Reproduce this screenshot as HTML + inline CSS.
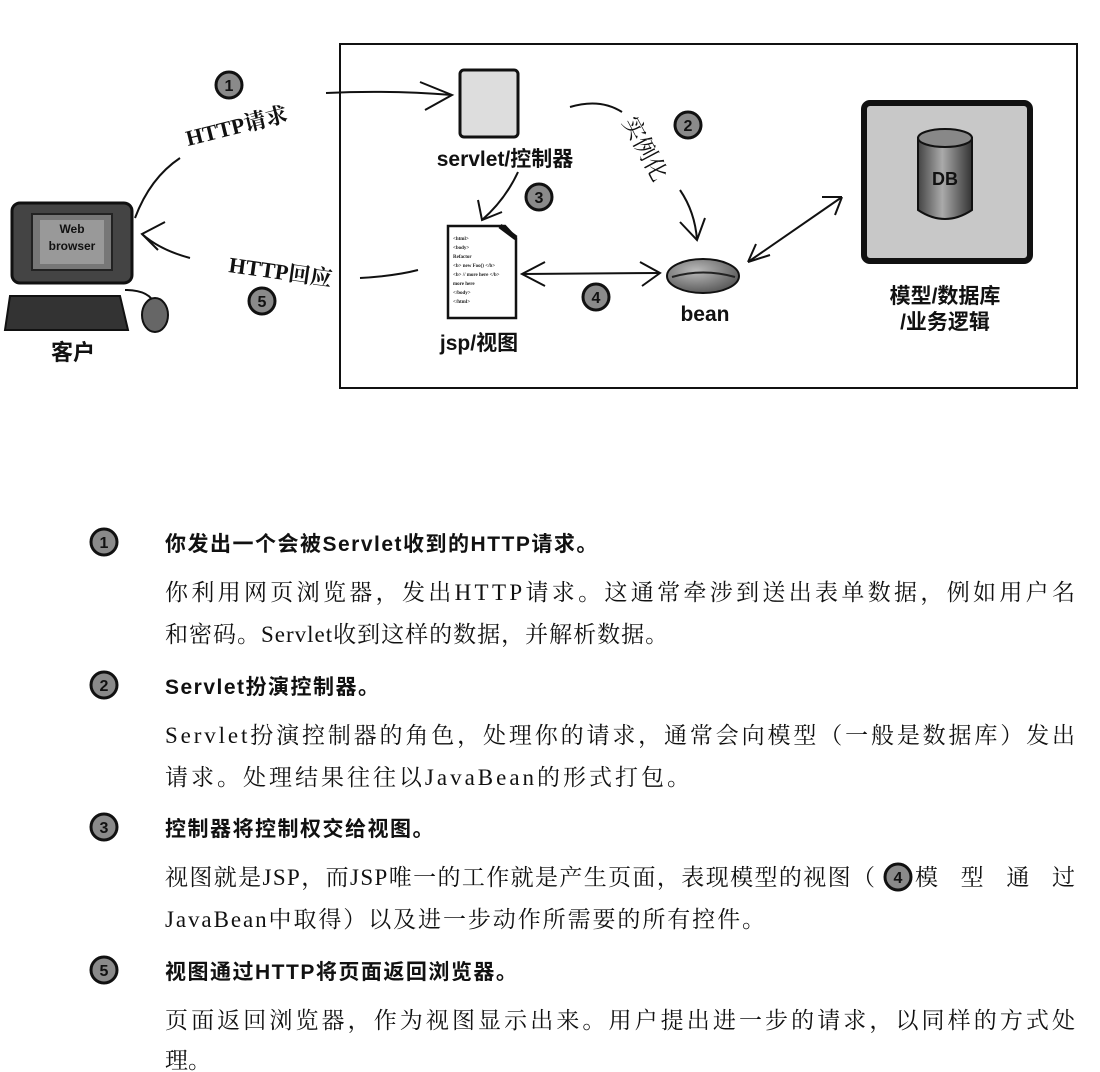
<!DOCTYPE html>
<html><head><meta charset="utf-8"><style>
html,body{margin:0;padding:0;background:#fff;}
svg{display:block;}
.b{font-family:"Liberation Sans","Noto Sans CJK SC",sans-serif;font-weight:bold;fill:#111;}
.t{font-family:"Liberation Sans","Noto Sans CJK SC",sans-serif;font-weight:bold;fill:#111;letter-spacing:1.5px;}
.s{font-family:"Liberation Serif","Noto Serif CJK SC",serif;fill:#111;}
.h{font-family:"Liberation Serif","Noto Serif CJK SC",serif;fill:#111;}
</style></head><body>
<svg width="1100" height="1072" viewBox="0 0 1100 1072" xmlns="http://www.w3.org/2000/svg">
<defs>
<radialGradient id="g" cx="40%" cy="35%" r="70%"><stop offset="0" stop-color="#bbb"/><stop offset="1" stop-color="#555"/></radialGradient>
<linearGradient id="cyl" x1="0" x2="1"><stop offset="0" stop-color="#444"/><stop offset=".45" stop-color="#aaa"/><stop offset="1" stop-color="#333"/></linearGradient>
<g id="circ"><circle r="13" fill="#8a8a8a" stroke="#111" stroke-width="3"/></g>
</defs>
<g fill="none" stroke="#111" stroke-width="2">
<rect x="340" y="44" width="737" height="344"/>
<path d="M135 218 Q150 178 180 158"/>
<path d="M326 93 Q390 90 452 95"/><path d="M420 82 L452 95 L425 110"/>
<path d="M570 107 Q600 98 622 112"/>
<path d="M680 190 Q695 212 697 240"/><path d="M680 222 L697 240 L705 218"/>
<path d="M518 172 Q505 200 482 220"/><path d="M478 200 L482 220 L502 212"/>
<path d="M360 278 Q395 276 418 270"/>
<path d="M190 258 Q160 250 142 234"/><path d="M165 222 L142 234 L158 250"/>
<path d="M522 274 L660 273"/><path d="M545 262 L522 274 L545 286"/><path d="M640 262 L660 273 L642 286"/>
<path d="M748 262 L842 197"/><path d="M748 262 L770 255 M748 262 L756 244"/><path d="M842 197 L822 197 M842 197 L835 215"/>
</g>
<rect x="460" y="70" width="58" height="67" rx="4" fill="#ddd" stroke="#111" stroke-width="3"/>
<text x="505" y="166" class="b" font-size="21" text-anchor="middle">servlet/控制器</text>
<path d="M448 226 L505 226 L516 238 L516 318 L448 318 Z" fill="#fff" stroke="#111" stroke-width="2.5"/>
<path d="M500 226 L516 238" stroke="#111" stroke-width="5"/>
<g font-family="Liberation Serif" font-size="5" font-weight="bold" fill="#222">
<text x="453" y="240">&lt;html&gt;</text><text x="453" y="249">&lt;body&gt;</text><text x="453" y="258">Refactor</text><text x="453" y="267">&lt;b&gt; new Foo() &lt;/b&gt;</text><text x="453" y="276">&lt;b&gt; // more here &lt;/b&gt;</text><text x="453" y="285">more here</text><text x="453" y="294">&lt;/body&gt;</text><text x="453" y="303">&lt;/html&gt;</text></g>
<text x="479" y="350" class="b" font-size="21" text-anchor="middle">jsp/视图</text>
<ellipse cx="703" cy="276" rx="36" ry="17" fill="url(#g)" stroke="#111" stroke-width="2"/>
<path d="M672 277 Q703 268 735 277" stroke="#222" stroke-width="2" fill="none"/>
<text x="705" y="321" class="b" font-size="21" text-anchor="middle">bean</text>
<rect x="864" y="103" width="166" height="158" rx="6" fill="#c8c8c8" stroke="#111" stroke-width="6"/>
<path d="M918 138 L918 210 Q945 228 972 210 L972 138 Z" fill="url(#cyl)" stroke="#111" stroke-width="2"/>
<ellipse cx="945" cy="138" rx="27" ry="9" fill="#888" stroke="#111" stroke-width="2"/>
<text x="945" y="185" class="b" font-size="18" text-anchor="middle">DB</text>
<text x="945" y="303" class="b" font-size="21" text-anchor="middle">模型/数据库</text>
<text x="945" y="329" class="b" font-size="21" text-anchor="middle">/业务逻辑</text>
<rect x="12" y="203" width="120" height="80" rx="8" fill="#444" stroke="#111" stroke-width="3"/>
<rect x="32" y="214" width="80" height="56" fill="#777" stroke="#222" stroke-width="2"/>
<rect x="40" y="220" width="64" height="44" fill="#999"/>
<text x="72" y="233" class="b" font-size="12" text-anchor="middle" fill="#222">Web</text>
<text x="72" y="250" class="b" font-size="12" text-anchor="middle" fill="#222">browser</text>
<path d="M10 296 L120 296 L128 330 L5 330 Z" fill="#333" stroke="#111" stroke-width="2"/>
<path d="M125 290 Q150 290 155 305" fill="none" stroke="#111" stroke-width="2"/>
<ellipse cx="155" cy="315" rx="13" ry="17" fill="#666" stroke="#111" stroke-width="2"/>
<text x="73" y="360" class="b" font-size="22" text-anchor="middle">客户</text>
<text transform="translate(188,146) rotate(-14)" class="h" font-size="22" font-weight="bold">HTTP请求</text>
<text transform="translate(228,272) rotate(8)" class="h" font-size="22" font-weight="bold">HTTP回应</text>
<text transform="translate(622,122) rotate(62)" class="h" font-size="23">实例化</text>
<use href="#circ" x="229" y="85"/><text x="229" y="91" class="b" font-size="16" text-anchor="middle">1</text>
<use href="#circ" x="688" y="125"/><text x="688" y="131" class="b" font-size="16" text-anchor="middle">2</text>
<use href="#circ" x="539" y="197"/><text x="539" y="203" class="b" font-size="16" text-anchor="middle">3</text>
<use href="#circ" x="596" y="297"/><text x="596" y="303" class="b" font-size="16" text-anchor="middle">4</text>
<use href="#circ" x="262" y="301"/><text x="262" y="307" class="b" font-size="16" text-anchor="middle">5</text>

<use href="#circ" x="104" y="542"/><text x="104" y="548" class="b" font-size="16" text-anchor="middle">1</text>
<text x="165" y="551" class="t" font-size="21">你发出一个会被Servlet收到的HTTP请求。</text>
<text x="165" y="600" class="s" font-size="23" textLength="910" lengthAdjust="spacing">你利用网页浏览器，发出HTTP请求。这通常牵涉到送出表单数据，例如用户名</text>
<text x="165" y="642" class="s" font-size="23" letter-spacing="1">和密码。Servlet收到这样的数据，并解析数据。</text>

<use href="#circ" x="104" y="685"/><text x="104" y="691" class="b" font-size="16" text-anchor="middle">2</text>
<text x="165" y="694" class="t" font-size="21">Servlet扮演控制器。</text>
<text x="165" y="743" class="s" font-size="23" textLength="910" lengthAdjust="spacing">Servlet扮演控制器的角色，处理你的请求，通常会向模型（一般是数据库）发出</text>
<text x="165" y="785" class="s" font-size="23" textLength="525" lengthAdjust="spacing">请求。处理结果往往以JavaBean的形式打包。</text>

<use href="#circ" x="104" y="827"/><text x="104" y="833" class="b" font-size="16" text-anchor="middle">3</text>
<text x="165" y="836" class="t" font-size="21">控制器将控制权交给视图。</text>
<text x="165" y="885" class="s" font-size="23" textLength="710" lengthAdjust="spacing">视图就是JSP，而JSP唯一的工作就是产生页面，表现模型的视图（</text>
<use href="#circ" x="898" y="877"/><text x="898" y="883" class="b" font-size="16" text-anchor="middle">4</text>
<text x="915" y="885" class="s" font-size="23" textLength="160" lengthAdjust="spacing">模型通过</text>
<text x="165" y="927" class="s" font-size="23" textLength="600" lengthAdjust="spacing">JavaBean中取得）以及进一步动作所需要的所有控件。</text>

<use href="#circ" x="104" y="970"/><text x="104" y="976" class="b" font-size="16" text-anchor="middle">5</text>
<text x="165" y="979" class="t" font-size="21">视图通过HTTP将页面返回浏览器。</text>
<text x="165" y="1028" class="s" font-size="23" textLength="910" lengthAdjust="spacing">页面返回浏览器，作为视图显示出来。用户提出进一步的请求，以同样的方式处</text>
<text x="165" y="1068" class="s" font-size="23">理。</text>
</svg>
</body></html>
